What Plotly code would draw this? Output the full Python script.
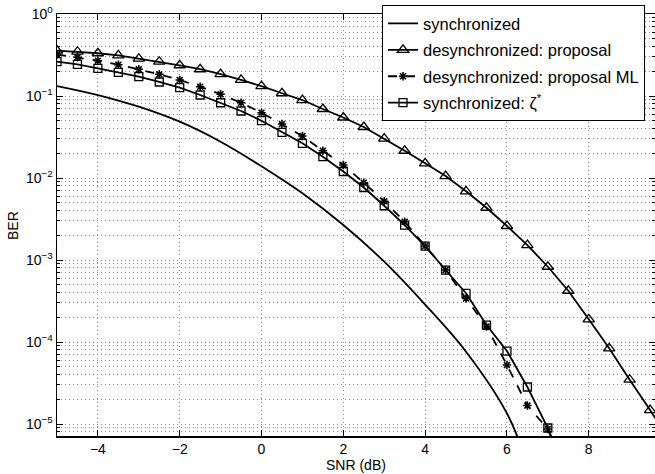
import plotly.graph_objects as go

# ---- data ----
snr_sync = [-5, -4, -3, -2, -1, 0, 1, 2, 3, 4, 5, 6, 6.5]
ber_sync = [0.1324, 0.1028, 0.0741, 0.0486, 0.0277, 0.0139, 0.0065, 0.00267,
            0.000955, 0.000286, 7.62e-5, 1.35e-5, 3.3e-6]

snr_prop = [-5, -4.5, -4, -3.5, -3, -2.5, -2, -1.5, -1, -0.5, 0, 0.5, 1, 1.5, 2,
            2.5, 3, 3.5, 4, 4.5, 5, 5.5, 6, 6.5, 7, 7.5, 8, 8.5, 9, 9.5, 10]
ber_prop = [0.357, 0.347, 0.332, 0.313, 0.285, 0.262, 0.237, 0.212, 0.185, 0.157,
            0.132, 0.108, 0.0893, 0.0694, 0.0547, 0.0419, 0.0303, 0.0215, 0.0151,
            0.01057, 0.00689, 0.00434, 0.0026, 0.00152, 0.000828, 0.000422,
            0.000189, 8.38e-5, 3.47e-5, 1.48e-5, 6.0e-6]

snr_ml = [-5, -4.5, -4, -3.5, -3, -2.5, -2, -1.5, -1, -0.5, 0, 0.5, 1, 1.5, 2,
          2.5, 3, 3.5, 4, 4.5, 5, 5.5, 6, 6.5, 7, 7.5]
ber_ml = [0.321, 0.2965, 0.2695, 0.241, 0.2117, 0.184, 0.1567, 0.1298, 0.105,
          0.0828, 0.0626, 0.0456, 0.0325, 0.0215, 0.0144, 0.00877, 0.0052,
          0.00293, 0.00148, 0.000755, 0.000339, 0.000154, 5.24e-5, 1.68e-5,
          8.7e-6, 2.07e-6]

snr_zeta = [-5, -4.5, -4, -3.5, -3, -2.5, -2, -1.5, -1, -0.5, 0, 0.5, 1, 1.5, 2,
            2.5, 3, 3.5, 4, 4.5, 5, 5.5, 6, 6.5, 7, 7.5]
ber_zeta = [0.262, 0.2435, 0.2177, 0.1945, 0.1719, 0.1482, 0.1262, 0.1028, 0.0828,
            0.0656, 0.0500, 0.0361, 0.0265, 0.0182, 0.0120, 0.00766, 0.00459,
            0.00267, 0.00148, 0.000755, 0.000393, 0.000161, 7.76e-5, 2.83e-5,
            8.94e-6, 2.2e-6]

x_ticks = [-4, -2, 0, 2, 4, 6, 8]
x_ticktext = ["\u22124", "\u22122", "0", "2", "4", "6", "8"]
y_exponents = [0, -1, -2, -3, -4, -5]

names = ["synchronized", "desynchronized: proposal",
         "desynchronized: proposal ML", "synchronized: \u03b6<sup>*</sup>"]
x_title = "SNR (dB)"
y_title = "BER"

FONT = "Liberation Sans, Arial, Helvetica, sans-serif"

y_tickvals = [10.0 ** e for e in y_exponents]
y_ticktext = ["10<sup>%s</sup>" % (str(e).replace("-", "\u2212")) for e in y_exponents]
y_minor = [m * 10.0 ** e for e in range(-6, 0) for m in range(2, 10)]

GRID = "#8c8c8c"
DOT = "1px,3px"

fig = go.Figure()
fig.add_trace(go.Scatter(x=snr_sync, y=ber_sync, mode="lines", name=names[0],
                         line=dict(color="black", width=1.8, shape="spline"),
                         legendgroup="a"))
fig.add_trace(go.Scatter(x=snr_prop, y=ber_prop, mode="lines+markers", name=names[1],
                         line=dict(color="black", width=1.8),
                         marker=dict(symbol="triangle-up-open", size=10, color="black",
                                     line=dict(width=1.3)),
                         legendgroup="b"))
fig.add_trace(go.Scatter(x=snr_ml, y=ber_ml, mode="lines+markers", name=names[2],
                         line=dict(color="black", width=1.8, dash="dash"),
                         marker=dict(symbol="asterisk-open", size=7, color="black",
                                     line=dict(width=1.6)),
                         legendgroup="c"))
fig.add_trace(go.Scatter(x=snr_zeta, y=ber_zeta, mode="lines+markers", name=names[3],
                         line=dict(color="black", width=1.8),
                         marker=dict(symbol="square-open", size=8, color="black",
                                     line=dict(width=1.3)),
                         legendgroup="d"))

fig.update_layout(
    template="none",
    width=655, height=474,
    margin=dict(l=57, r=0, t=14, b=38, autoexpand=False),
    paper_bgcolor="white", plot_bgcolor="white",
    font=dict(family=FONT, size=14, color="black"),
    showlegend=True,
    legend=dict(x=0.5435, y=1.021, xanchor="left", yanchor="top",
                bgcolor="white", bordercolor="black", borderwidth=1,
                font=dict(family=FONT, size=16.5, color="black"),
                itemwidth=30, traceorder="grouped", tracegroupgap=2),
    xaxis=dict(range=[-5, 9.62], tickmode="array", tickvals=x_ticks,
               ticktext=x_ticktext, ticks="inside", ticklen=6, tickcolor="black",
               showline=True, linecolor="black", linewidth=1.5, mirror="ticks",
               showgrid=True, gridcolor=GRID, griddash=DOT, gridwidth=1,
               zeroline=False, automargin=False),
    yaxis=dict(type="log", range=[-5.146, 0], tickmode="array", tickvals=y_tickvals,
               ticktext=y_ticktext, ticks="inside", ticklen=6, tickcolor="black",
               showline=True, linecolor="black", linewidth=1.5, mirror="ticks",
               showgrid=True, gridcolor=GRID, griddash=DOT, gridwidth=1,
               zeroline=False, automargin=False,
               minor=dict(tickmode="array", tickvals=y_minor, ticks="inside",
                          ticklen=3, tickcolor="black", showgrid=True,
                          gridcolor=GRID, griddash=DOT, gridwidth=1)),
    annotations=[
        dict(text=x_title, xref="paper", yref="paper", x=0.5, y=-0.069,
             xanchor="center", yanchor="middle", showarrow=False,
             font=dict(family=FONT, size=14, color="black")),
        dict(text=y_title, xref="paper", yref="paper", x=-0.0736, y=0.5,
             xanchor="center", yanchor="middle", showarrow=False, textangle=-90,
             font=dict(family=FONT, size=14, color="black")),
    ],
)

fig.write_html("out.html",
               config={"displayModeBar": False, "staticPlot": True},
               post_script="document.body.style.margin='0';"
                           "document.body.style.overflow='hidden';")
